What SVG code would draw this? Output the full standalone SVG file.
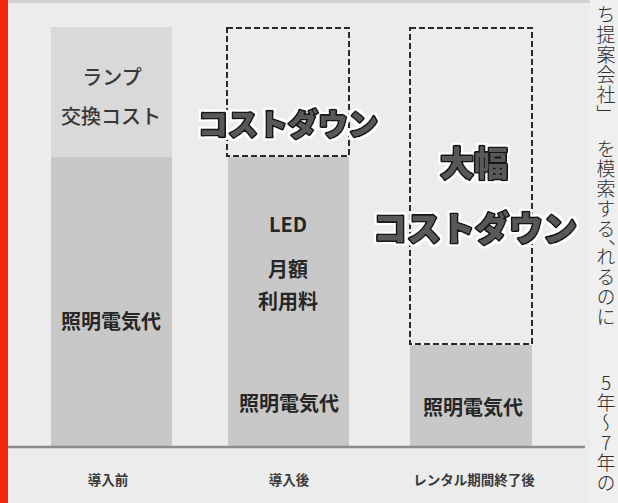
<svg xmlns="http://www.w3.org/2000/svg" width="618" height="503" viewBox="0 0 618 503">
<style>
.lbl{font-family:"Noto Sans CJK JP","Liberation Sans",sans-serif;font-weight:700;fill:#262626;text-anchor:middle;font-size:20px}
.lbl-m{font-family:"Noto Sans CJK JP","Liberation Sans",sans-serif;font-weight:500;fill:#383838;text-anchor:middle;font-size:20px}
.axis-lbl{font-family:"Noto Sans CJK JP","Liberation Sans",sans-serif;font-weight:700;fill:#3a3a3a;text-anchor:middle;font-size:13.5px}
.big{font-family:"Noto Sans CJK JP",sans-serif;font-weight:900;fill:#585858;stroke:#141414;stroke-width:3.2;paint-order:stroke;text-anchor:middle;stroke-linejoin:round}
.dash{fill:none;stroke:#2a2a2a;stroke-width:2;stroke-dasharray:6 3}
.upper{fill:#d9d9d9}
.lower{fill:#c8c8c8}
.article{font-family:"Noto Sans CJK JP",sans-serif;font-weight:300;fill:#2e2e2e;font-size:19px;writing-mode:vertical-rl;text-orientation:upright;letter-spacing:1px}
</style>
<defs>
<filter id="halo" x="-10%" y="-40%" width="120%" height="180%">
<feMorphology in="SourceAlpha" operator="dilate" radius="2" result="d"/>
<feFlood flood-color="#ffffff"/>
<feComposite in2="d" operator="in" result="w"/>
<feMerge><feMergeNode in="w"/><feMergeNode in="SourceGraphic"/></feMerge>
</filter>
</defs>
<rect x="0" y="0" width="618" height="503" fill="#ececec"/>
<rect x="590" y="0" width="28" height="503" fill="#efefef"/>
<line x1="8" y1="1.5" x2="590" y2="1.5" stroke="#d2d2d2" stroke-width="3"/>
<rect x="0" y="0" width="8" height="503" fill="#f2290c"/>

<g id="bar-before">
<rect class="upper" x="51" y="27" width="121" height="130"/>
<rect class="lower" x="51" y="157" width="121" height="289"/>
<text class="lbl-m" x="112" y="85">ランプ</text>
<text class="lbl-m" x="111" y="124">交換コスト</text>
<text class="lbl" x="111" y="329">照明電気代</text>
</g>

<g id="bar-after">
<rect class="lower" x="228" y="157" width="121" height="289"/>
<rect class="dash" x="227" y="28" width="122" height="128"/>
<text class="lbl" x="288" y="232" font-family="Liberation Sans">LED</text>
<text class="lbl" x="288" y="277">月額</text>
<text class="lbl" x="288" y="309">利用料</text>
<text class="lbl" x="289" y="411">照明電気代</text>
<text class="big" x="288" y="135" font-size="30" filter="url(#halo)">コストダウン</text>
</g>

<g id="bar-rental-end">
<rect class="lower" x="410" y="345" width="122" height="101"/>
<rect class="dash" x="410" y="28" width="122" height="316"/>
<text class="lbl" x="473" y="415">照明電気代</text>
<text class="big" x="474" y="176" font-size="34" filter="url(#halo)">大幅</text>
<text class="big" x="475" y="241" font-size="34" filter="url(#halo)">コストダウン</text>
</g>

<g id="axis">
<line x1="8" y1="447" x2="585" y2="447" stroke="#8c8c8c" stroke-width="2.5"/>
<text class="axis-lbl" x="108" y="485">導入前</text>
<text class="axis-lbl" x="289" y="485">導入後</text>
<text class="axis-lbl" x="474" y="485">レンタル期間終了後</text>
</g>

<g id="connectors"></g>

<g id="article-text">
<text class="article" x="606" y="5">ち提案会社」</text>
<text class="article" x="606" y="139">を模索する、</text>
<text class="article" x="606" y="247">れるのに</text>
<text class="article" x="606" y="373">5年〜7年の</text>
</g>
</svg>
